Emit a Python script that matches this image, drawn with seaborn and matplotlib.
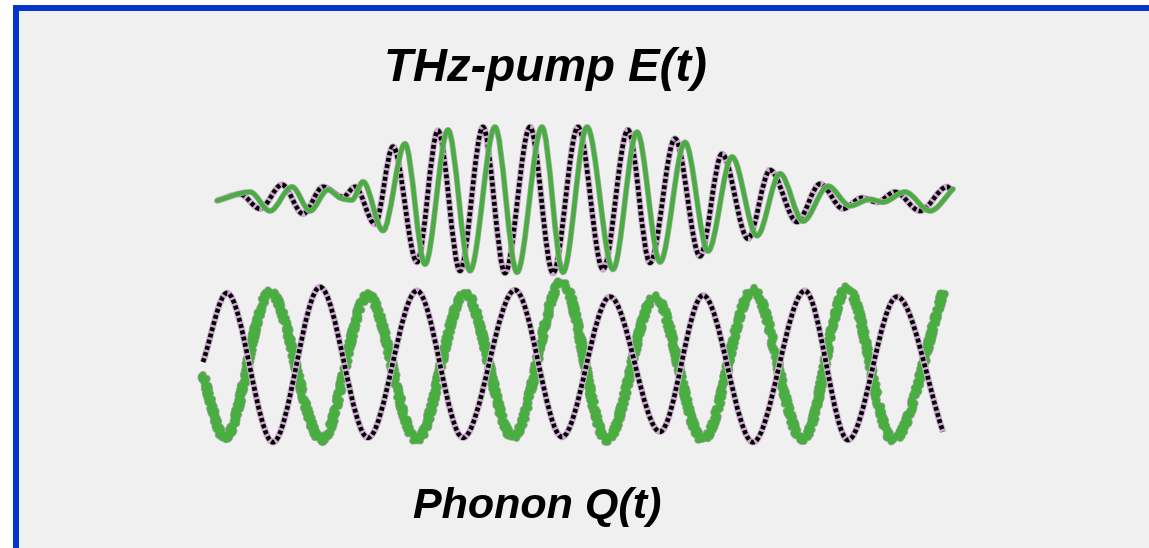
import numpy as np
import matplotlib
matplotlib.use("Agg")
import matplotlib.pyplot as plt
import matplotlib.patheffects as pe
from matplotlib.path import Path
from matplotlib.patches import PathPatch, Rectangle
import seaborn as sns

# ---- data: turning points of each trace (time in ps, normalised amplitude) ----
pump_ref_t = [0.02, 0.25, 0.45, 0.67, 0.88, 1.08, 1.28, 1.40, 1.60, 1.78, 2.02, 2.23,
              2.45, 2.68, 2.90, 3.15, 3.38, 3.63, 3.88, 4.13, 4.35, 4.60, 4.85, 5.07,
              5.33, 5.55, 5.82, 6.05, 6.28, 6.47, 6.62, 6.80, 7.05, 7.32, 7.38]
pump_ref_v = [-0.01, 0.08, -0.12, 0.21, -0.19, 0.18, 0.04, 0.18, -0.33, 0.73, -0.85, 0.95,
              -0.97, 1.00, -1.00, 1.00, -1.00, 1.00, -0.95, 0.96, -0.86, 0.84, -0.77, 0.63,
              -0.53, 0.41, -0.30, 0.22, -0.12, 0.03, -0.03, 0.11, -0.15, 0.18, 0.11]

pump_sim_t = [0.02, 0.35, 0.55, 0.77, 0.95, 1.13, 1.25, 1.37, 1.48, 1.68, 1.90, 2.10,
              2.33, 2.55, 2.80, 3.02, 3.27, 3.48, 3.72, 3.98, 4.22, 4.45, 4.70, 4.93,
              5.17, 5.42, 5.65, 5.88, 6.13, 6.35, 6.55, 6.68, 6.90, 7.15, 7.38]
pump_sim_v = [-0.01, 0.11, -0.15, 0.18, -0.15, 0.14, 0.03, 0.00, 0.25, -0.42, 0.77, -0.88,
              0.96, -0.97, 1.00, -0.99, 1.00, -0.99, 1.00, -0.95, 0.93, -0.85, 0.79, -0.70,
              0.59, -0.49, 0.36, -0.29, 0.19, -0.08, 0.01, -0.03, 0.11, -0.15, 0.15]

phonon_ref_t = [-0.12, 0.12, 0.58, 1.05, 1.53, 2.02, 2.48, 3.00, 3.47, 3.95, 4.45,
                4.88, 5.38, 5.90, 6.33, 6.82, 7.28]
phonon_ref_v = [0.04, 0.96, -1.03, 1.04, -0.97, 0.99, -0.97, 1.00, -0.96, 0.91, -0.89,
                0.93, -1.03, 0.99, -1.00, 0.91, -0.89]

phonon_sim_t = [-0.12, 0.10, 0.55, 1.07, 1.53, 2.02, 2.50, 2.98, 3.47, 3.92, 4.40,
                4.88, 5.38, 5.88, 6.32, 6.78, 7.28]
phonon_sim_v = [-0.13, -0.97, 0.97, -1.00, 0.93, -1.00, 0.96, -0.96, 1.11, -1.00, 0.91,
                -1.00, 1.00, -1.00, 1.03, -1.00, 0.96]

labels = ["THz-pump E(t)", "Phonon Q(t)"]

GREEN = "#47ae3f"
BLUE = "#0536cc"
PANEL = "#f0f0f0"

sns.set_theme(style="white", rc={"figure.facecolor": "white", "axes.facecolor": "none"})
plt.rcParams["font.family"] = ["Liberation Sans", "DejaVu Sans"]


def smooth_path(t, v):
    """Cubic Hermite path through the turning points (flat at each extremum)."""
    t = np.asarray(t, float)
    v = np.asarray(v, float)
    n = len(t)
    m = np.zeros(n)
    for i in range(n):
        if i == 0:
            m[i] = (v[1] - v[0]) / (t[1] - t[0])
        elif i == n - 1:
            m[i] = (v[-1] - v[-2]) / (t[-1] - t[-2])
        else:
            d0, d1 = v[i] - v[i - 1], v[i + 1] - v[i]
            m[i] = 0.0 if d0 * d1 <= 0 else (v[i + 1] - v[i - 1]) / (t[i + 1] - t[i - 1])
    verts = [(t[0], v[0])]
    codes = [Path.MOVETO]
    for i in range(n - 1):
        h = (t[i + 1] - t[i]) / 3.0
        verts += [(t[i] + h, v[i] + m[i] * h),
                  (t[i + 1] - h, v[i + 1] - m[i + 1] * h),
                  (t[i + 1], v[i + 1])]
        codes += [Path.CURVE4] * 3
    return Path(verts, codes)


def dotted_trace(ax, t, v, z):
    path = smooth_path(t, v)
    halo = PathPatch(path, fill=False, edgecolor="#d2a8d6", lw=3.9, zorder=z,
                     path_effects=[pe.Stroke(linewidth=4.7, foreground="#bdbdbd"), pe.Normal()])
    dots = PathPatch(path, fill=False, edgecolor="black", lw=3.3, zorder=z + 0.1,
                     linestyle=(0, (0.85, 0.55)), capstyle="butt")
    ax.add_patch(halo)
    ax.add_patch(dots)


def green_trace(ax, t, v, z, lw, jagged=False):
    path = smooth_path(t, v)
    line = PathPatch(path, fill=False, edgecolor=GREEN, lw=lw, zorder=z,
                     capstyle="round", joinstyle="round",
                     path_effects=[pe.Stroke(linewidth=lw + 1.1, foreground="#a9a9a9"), pe.Normal()])
    if jagged:
        line.set_sketch_params(scale=2.6, length=2.6, randomness=3.0)
    ax.add_patch(line)


fig = plt.figure(figsize=(11.49, 5.48), dpi=100)

# framed panel: blue rule along the top and left edges, kept behind the axes
W, H = 1149.0, 548.0
panel = Rectangle((15.5 / W, -0.1), 1.2, 1.1 - 8 / H, transform=fig.transFigure,
                  facecolor=PANEL, edgecolor=BLUE, lw=4.3, zorder=-5)
fig.patches.append(panel)

xlim = (-2.15, (W - 215) / 100.0)

ax_top = fig.add_axes([0, 1 - 300 / H, 1, 200 / H])
ax_top.set_zorder(1)
ax_top.set_xlim(*xlim)
ax_top.set_ylim(-100 / 73, 100 / 73)
ax_top.axis("off")
dotted_trace(ax_top, pump_ref_t, pump_ref_v, 2)
green_trace(ax_top, pump_sim_t, pump_sim_v, 3, lw=3.1)

ax_bot = fig.add_axes([0, 1 - 465 / H, 1, 200 / H])
ax_bot.set_zorder(2)
ax_bot.set_xlim(*xlim)
ax_bot.set_ylim(-100 / 75, 100 / 75)
ax_bot.axis("off")
green_trace(ax_bot, phonon_sim_t, phonon_sim_v, 2, lw=4.4, jagged=True)
dotted_trace(ax_bot, phonon_ref_t, phonon_ref_v, 3)

fig.text(545 / W, 1 - 81 / H, labels[0], ha="center", va="baseline",
         fontsize=34, fontweight="bold", fontstyle="italic", color="black", zorder=5)
fig.text(537 / W, 1 - 518 / H, labels[1], ha="center", va="baseline",
         fontsize=31, fontweight="bold", fontstyle="italic", color="black", zorder=5)

fig.savefig("out.png", dpi=100, facecolor="white")
